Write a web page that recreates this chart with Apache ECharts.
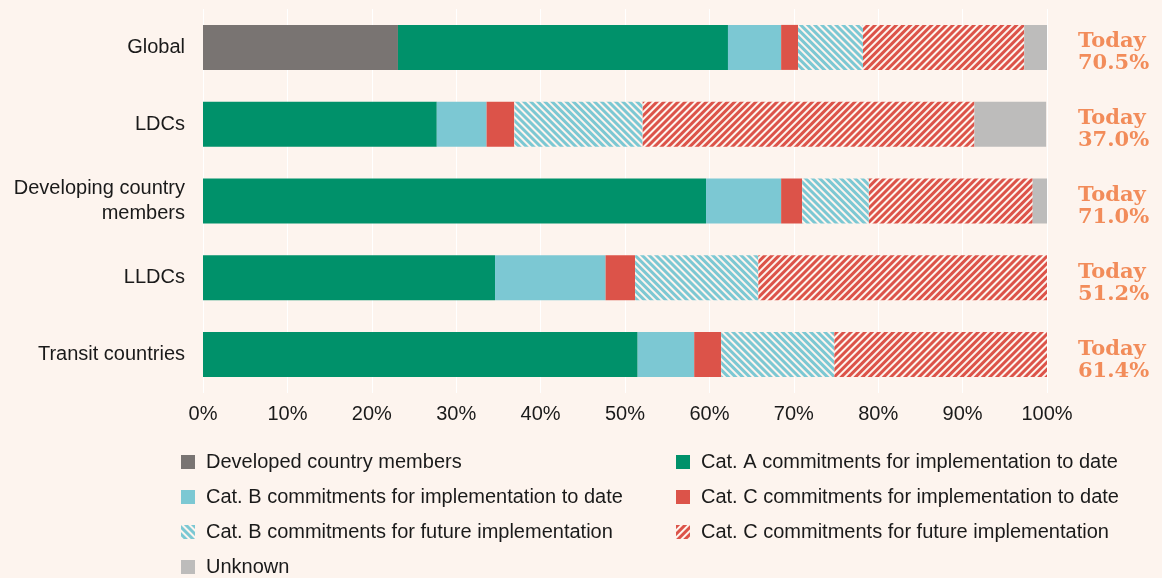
<!DOCTYPE html>
<html>
<head>
<meta charset="utf-8">
<script src="https://cdn.jsdelivr.net/npm/echarts@6/dist/echarts.min.js"></script>
<style>
  html, body { margin: 0; padding: 0; background: #fdf4ee; }
  #chart { width: 1162px; height: 578px; }
</style>
</head>
<body>
<div id="chart"></div>
<script>
const categories = ['Global', 'LDCs', 'Developing country\nmembers', 'LLDCs', 'Transit countries']
const todayValues = ['70.5%', '37.0%', '71.0%', '51.2%', '61.4%']

const developed = [23.1, 0, 0, 0, 0]
const catA = [39.1, 27.7, 59.6, 34.6, 51.5]
const catB = [6.3, 5.9, 8.9, 13.1, 6.7]
const catC = [2.0, 3.3, 2.5, 3.5, 3.2]
const catBFuture = [7.7, 15.2, 7.9, 14.6, 13.4]
const catCFuture = [19.1, 39.3, 19.4, 34.2, 25.2]
const unknown = [2.7, 8.5, 1.7, 0, 0]

const bg = '#fdf4ee'
const font = 'Liberation Sans'
const textColor = '#1a1a1a'

const stripe = (color, rot) => ({
    symbol: 'rect',
    symbolSize: 1,
    dashArrayX: [1, 0],
    dashArrayY: [2.4, 1.8],
    rotation: rot,
    color: color,
    backgroundColor: bg
})

const bar = (name, data, color, decal) => ({
    name: name,
    type: 'bar',
    stack: 'total',
    barWidth: 45,
    data: data,
    itemStyle: decal ? { color: bg, decal: decal } : { color: color }
})

const legendBase = {
    orient: 'vertical',
    top: 452,
    height: 200,
    padding: 0,
    itemWidth: 14,
    itemHeight: 14,
    itemGap: 15,
    icon: 'rect',
    textStyle: { fontFamily: font, fontSize: 20, color: textColor, padding: [0, 0, 0, 6] }
}

const todayStyle = {
    fontFamily: 'DejaVu Serif',
    fontWeight: 'bold',
    fontSize: 21,
    lineHeight: 22,
    color: '#f28c5a'
}

const chart = echarts.init(document.getElementById('chart'))
chart.setOption({
    backgroundColor: bg,
    animation: false,
    grid: { left: 203, right: 115, top: 9, bottom: 185 },
    legend: [
        Object.assign({}, legendBase, {
            left: 181,
            data: ['Developed country members', 'Cat. B commitments for implementation to date',
                'Cat. B commitments for future implementation', 'Unknown']
        }),
        Object.assign({}, legendBase, {
            left: 676,
            data: ['Cat. A commitments for implementation to date', 'Cat. C commitments for implementation to date',
                'Cat. C commitments for future implementation']
        })
    ],
    xAxis: {
        type: 'value',
        min: 0,
        max: 100,
        interval: 10,
        axisLine: { show: false },
        axisTick: { show: false },
        splitLine: { lineStyle: { color: '#ffffff', width: 1 } },
        axisLabel: { formatter: '{value}%', fontFamily: font, fontSize: 20, color: textColor, margin: 11 }
    },
    yAxis: [
        {
            type: 'category',
            inverse: true,
            data: categories,
            axisLine: { show: false },
            axisTick: { show: false },
            axisLabel: { fontFamily: font, fontSize: 20, color: textColor, margin: 18, lineHeight: 25, align: 'right' }
        },
        {
            type: 'category',
            inverse: true,
            position: 'right',
            data: todayValues,
            axisLine: { show: false },
            axisTick: { show: false },
            axisLabel: {
                formatter: v => '{s| }\n{t|Today}\n{t|' + v + '}',
                margin: 31,
                align: 'left',
                rich: {
                    s: { fontSize: 4, lineHeight: 11 },
                    t: todayStyle
                }
            }
        }
    ],
    series: [
        bar('Developed country members', developed, '#797472'),
        bar('Cat. A commitments for implementation to date', catA, '#00916a'),
        bar('Cat. B commitments for implementation to date', catB, '#7cc8d3'),
        bar('Cat. C commitments for implementation to date', catC, '#dc5349'),
        bar('Cat. B commitments for future implementation', catBFuture, '#7cc8d3', stripe('#7cc8d3', Math.PI / 4)),
        bar('Cat. C commitments for future implementation', catCFuture, '#dc5349', stripe('#dc5349', -Math.PI / 4)),
        bar('Unknown', unknown, '#bdbcbb')
    ]
})
</script>
</body>
</html>
